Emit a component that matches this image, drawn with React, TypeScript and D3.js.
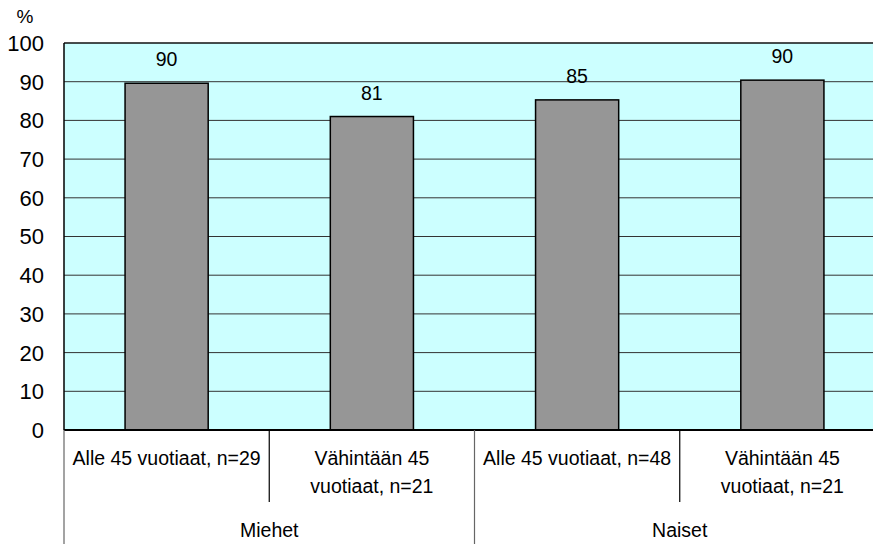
import React from "react";
import * as d3 from "d3";

const width = 873;
const height = 544;
const margin = { top: 43, left: 64, bottom: 430 };
const plotRight = 885;

const groups = ["Miehet", "Naiset"];
const categories = [
  ["Alle 45 vuotiaat, n=29"],
  ["Vähintään 45", "vuotiaat, n=21"],
  ["Alle 45 vuotiaat, n=48"],
  ["Vähintään 45", "vuotiaat, n=21"],
];
const values = [89.6, 81, 85.3, 90.4];
const valueLabels = ["90", "81", "85", "90"];
const yTicks = [0, 10, 20, 30, 40, 50, 60, 70, 80, 90, 100];

const font = "'Liberation Sans', Arial, sans-serif";

const App = () => {
  const x = d3
    .scaleBand<number>()
    .domain(d3.range(categories.length))
    .range([margin.left, plotRight])
    .padding(0);
  const y = d3.scaleLinear().domain([0, 100]).range([margin.bottom, margin.top]);
  const bw = x.bandwidth();
  const barW = bw * 0.405;

  // group bands span two categories each
  const gx = d3
    .scaleBand<number>()
    .domain(d3.range(groups.length))
    .range([margin.left, plotRight])
    .padding(0);

  return (
    <div style={{ position: "absolute", left: 0, top: 0 }}>
      <svg width={width} height={height} style={{ display: "block", fontFamily: font }}>
        <rect
          x={margin.left}
          y={margin.top}
          width={plotRight - margin.left}
          height={margin.bottom - margin.top}
          fill="#ccffff"
        />
        {yTicks.map((t) => (
          <g key={t}>
            <line
              x1={margin.left}
              x2={plotRight}
              y1={y(t)}
              y2={y(t)}
              stroke={t === 100 ? "#111" : "#333"}
              strokeWidth={t === 100 ? 1.5 : 1}
            />
            <text x={44} y={y(t)} dy="0.36em" textAnchor="end" fontSize={22} fill="#000">
              {t}
            </text>
          </g>
        ))}
        <text x={25} y={23} textAnchor="middle" fontSize={19} fill="#000">
          %
        </text>
        {values.map((v, i) => {
          const cx = (x(i) as number) + bw / 2;
          return (
            <g key={i}>
              <rect
                x={cx - barW / 2}
                y={y(v)}
                width={barW}
                height={y(0) - y(v)}
                fill="#969696"
                stroke="#000"
                strokeWidth={1.5}
              />
              <text x={cx} y={y(v) - 17} textAnchor="middle" fontSize={19.5} fill="#000">
                {valueLabels[i]}
              </text>
            </g>
          );
        })}
        <line
          x1={margin.left}
          x2={margin.left}
          y1={margin.top}
          y2={margin.bottom}
          stroke="#000"
          strokeWidth={1.5}
        />
        <line
          x1={margin.left}
          x2={plotRight}
          y1={margin.bottom}
          y2={margin.bottom}
          stroke="#000"
          strokeWidth={2}
        />
        {/* category axis */}
        {categories.map((lines, i) => {
          const cx = (x(i) as number) + bw / 2;
          return (
            <g key={i}>
              {lines.map((l, j) => (
                <text
                  key={j}
                  x={cx}
                  y={465 + j * 28}
                  textAnchor="middle"
                  fontSize={19.5}
                  fill="#000"
                >
                  {l}
                </text>
              ))}
            </g>
          );
        })}
        {categories.map((_, i) =>
          i % 2 === 1 ? (
            <line
              key={"t" + i}
              x1={x(i) as number}
              x2={x(i) as number}
              y1={margin.bottom}
              y2={502}
              stroke="#000"
              strokeWidth={1.2}
            />
          ) : null
        )}
        {groups.map((g, i) => (
          <g key={g}>
            <line
              x1={gx(i) as number}
              x2={gx(i) as number}
              y1={margin.bottom}
              y2={height}
              stroke="#666"
              strokeWidth={1.2}
            />
            <text
              x={(gx(i) as number) + gx.bandwidth() / 2}
              y={537}
              textAnchor="middle"
              fontSize={19.5}
              fill="#000"
            >
              {g}
            </text>
          </g>
        ))}
      </svg>
    </div>
  );
};

export default App;
